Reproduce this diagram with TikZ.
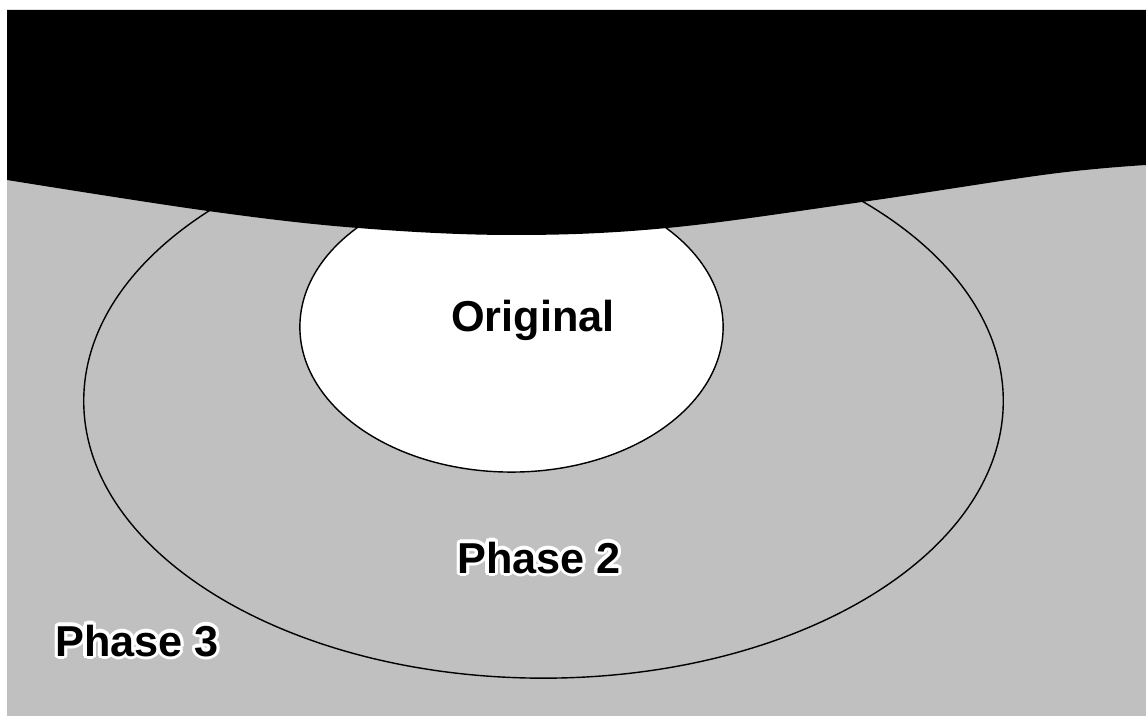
\documentclass[tikz,border=0pt]{standalone}
\usepackage{tikz}
\usepackage{xcolor}
\usepackage{fontspec}
\setmainfont{Liberation Sans}
\usepackage[copies]{contour}
\contourlength{0.9pt}
\contournumber{16}
\definecolor{bgtex}{HTML}{C0C0C0}
\tikzset{
  phaselabel/.style={anchor=base, font=\fontsize{12.3}{14}\selectfont\bfseries, inner sep=0pt},
  outline/.style={draw=black, line width=0.4pt}
}

\begin{document}
\begin{tikzpicture}[x=0.01cm,y=-0.01cm]

\useasboundingbox (0,0) rectangle (1146,716);

% textured ground
\fill[bgtex] (7,10) rectangle (1146,716);

% phase 2 boundary
\draw[outline] (543.5,401) ellipse [x radius=4.595cm, y radius=2.77cm];

% original area
\draw[outline, fill=white] (511.5,327) ellipse [x radius=2.115cm, y radius=1.45cm];

% black band with wavy edge
\fill[black] (7,10) -- (1146,10) -- (1146,165)
  -- plot[smooth, tension=0.6] coordinates {(1146,165) (1050,174) (862,202) (667,228) (513,235) (358,228) (208,211) (7,180)}
  -- cycle;

\node[phaselabel] (orig) at (533,332) {Original};
\node[phaselabel] (ph2) at (539,573) {\contour{white}{Phase 2}};
\node[phaselabel] (ph3) at (137,656) {\contour{white}{Phase 3}};

\end{tikzpicture}
\end{document}
